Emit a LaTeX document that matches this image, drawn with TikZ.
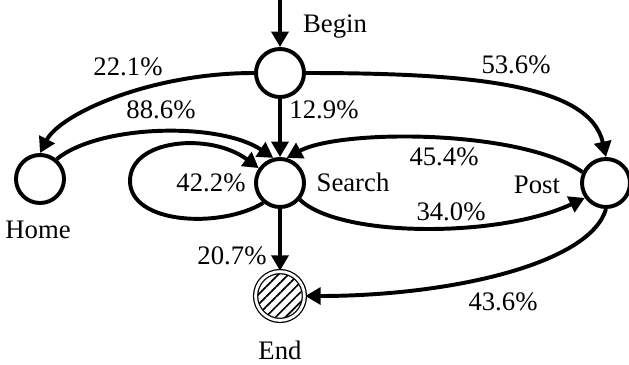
\documentclass[tikz,border=0pt]{standalone}
\usepackage{fontspec}
\setmainfont{Liberation Serif}
\usetikzlibrary{arrows.meta,patterns.meta}

\begin{document}
\begin{tikzpicture}[
    x=0.025cm, y=0.025cm,
    font=\fontsize{19}{21}\selectfont,
    state/.style={circle,draw,line width=2.8pt,minimum size=1.2cm,inner sep=0pt,fill=white},
    final/.style={circle,draw,double,line width=0.9pt,double distance=2pt,minimum size=1.22cm,inner sep=0pt,
      pattern={Lines[angle=45,distance=5pt,line width=1.2pt]}},
    trans/.style={line width=2.8pt,-{Triangle[length=11pt,width=12pt]}}
    ]
    \useasboundingbox (0,0) rectangle (629,364);
    \node[state] (begin) at (280,291) {};
    \node[state] (search) at (280,181) {};
    \node[state] (home) at (40,185) {};
    \node[state] (post) at (606,181) {};
    \node[final] (theend) at (280,68) {};
    \coordinate (start) at (280,364);
    \coordinate (loopleft) at (130,183);
    \node (beginlbl) at (335,337) {Begin};
    \node (searchlbl) at (353,182) {Search};
    \node (homelbl) at (38,134) {Home};
    \node (postlbl) at (537,179) {Post};
    \node (endlbl) at (280,14) {End};
    \draw[trans] (start) -- (begin);
    \draw[trans] (begin.west) .. controls (150,291) and (60,250) .. (home.north);
    \draw[trans] (begin.east) .. controls (470,291) and (590,280) .. (post.north);
    \draw[trans] (begin) -- (search);
    \draw[trans] (home.50) .. controls (100,240) and (220,242) .. (search.105);
    \draw[trans] (search.230) .. controls (220,135) and (130,140) .. (loopleft)
      .. controls (130,225) and (210,232) .. (search.145);
    \draw[trans] (post.155) .. controls (520,235) and (340,235) .. (search.75);
    \draw[trans] (search.-40) .. controls (340,126) and (500,126) .. (post.215);
    \draw[trans] (search) -- (theend);
    \draw[trans] (post.south) .. controls (590,100) and (450,68) .. (theend.east);
    \node (p221) at (128,297) {22.1\%};
    \node (p536) at (516,299) {53.6\%};
    \node (p129) at (324,254) {12.9\%};
    \node (p886) at (161,254) {88.6\%};
    \node (p422) at (211,181) {42.2\%};
    \node (p454) at (444,207) {45.4\%};
    \node (p340) at (451,152) {34.0\%};
    \node (p207) at (232,108) {20.7\%};
    \node (p436) at (503,62) {43.6\%};
\end{tikzpicture}
\end{document}
